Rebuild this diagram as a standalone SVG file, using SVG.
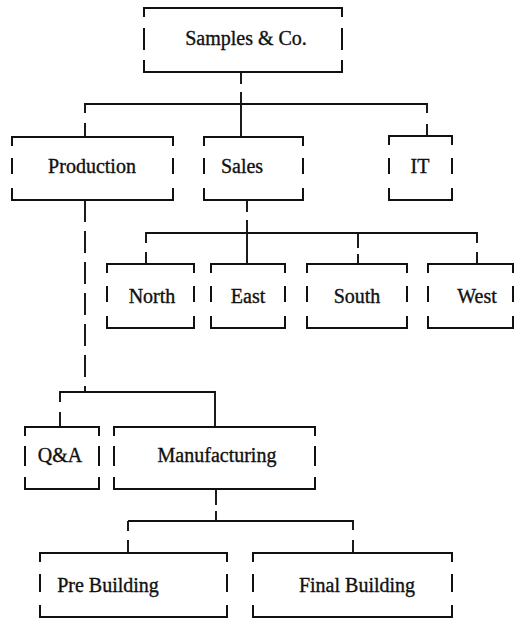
<svg xmlns="http://www.w3.org/2000/svg" width="514" height="619" viewBox="0 0 514 619">
<style>
.b{fill:none;stroke:#111;stroke-width:2}
.c{fill:none;stroke:#111;stroke-width:1.9}
.t{font-family:"Liberation Serif","Times New Roman",serif;font-size:20px;fill:#111;stroke:#111;stroke-width:0.35;text-anchor:middle}
</style>
<rect width="514" height="619" fill="#fff"/>
<g id="connectors">
<path class="c" d="M241 72 V84 M241 92 V137"/>
<path class="c" d="M85 113 V104 H427 V113 M85 123 V137 M427 124 V136"/>
<path class="c" d="M247 200 V212 M247 220 V264"/>
<path class="c" d="M146 243 V233 H477 V243 M146 252 V264 M358 233 V248 M358 254 V264 M477 252 V264"/>
<path class="c" d="M85 200 V392" stroke-dasharray="22 9"/>
<path class="c" d="M60 402 V392 H215 V427 M60 412 V427"/>
<path class="c" d="M216 489 V505 M216 511 V521 M128 521 H353 V530 M128 531 V521 M128 540 V553 M353 540 V553"/>
</g>
<g id="n-root"><path class="b" d="M144 17 V8 H342 V17 M144 60 V72 H342 V60 M144 28 V50 M342 28 V50"/><text class="t" x="246" y="45">Samples &amp; Co.</text></g>
<g id="n-production"><path class="b" d="M12 146 V137 H173 V146 M12 188 V200 H173 V188 M12 158 V174 M173 158 V174"/><text class="t" x="92" y="173">Production</text></g>
<g id="n-sales"><path class="b" d="M204 146 V137 H303 V146 M204 188 V200 H303 V188 M204 158 V174 M303 158 V174"/><text class="t" x="242" y="173">Sales</text></g>
<g id="n-it"><path class="b" d="M389 145 V136 H452 V145 M389 188 V200 H452 V188 M389 158 V174 M452 158 V174"/><text class="t" x="420" y="173">IT</text></g>
<g id="n-north"><path class="b" d="M107 273 V264 H194 V273 M107 316 V328 H194 V316 M107 286 V302 M194 286 V302"/><text class="t" x="152" y="303">North</text></g>
<g id="n-east"><path class="b" d="M211 273 V264 H285 V273 M211 316 V328 H285 V316 M211 286 V302 M285 286 V302"/><text class="t" x="248" y="303">East</text></g>
<g id="n-south"><path class="b" d="M307 273 V264 H407 V273 M307 316 V328 H407 V316 M307 286 V302 M407 286 V302"/><text class="t" x="357" y="303">South</text></g>
<g id="n-west"><path class="b" d="M428 273 V264 H513 V273 M428 316 V328 H513 V316 M428 286 V302 M513 286 V302"/><text class="t" x="477" y="303">West</text></g>
<g id="n-qa"><path class="b" d="M25 436 V427 H99 V436 M25 477 V489 H99 V477 M25 446 V466 M99 446 V466"/><text class="t" x="60" y="462">Q&amp;A</text></g>
<g id="n-manufacturing"><path class="b" d="M114 436 V427 H315 V436 M114 477 V489 H315 V477 M114 446 V466 M315 446 V466"/><text class="t" x="217" y="462">Manufacturing</text></g>
<g id="n-pre"><path class="b" d="M40 562 V553 H227 V562 M40 605 V617 H227 V605 M40 574 V592 M227 574 V592"/><text class="t" x="108" y="592">Pre Building</text></g>
<g id="n-final"><path class="b" d="M253 562 V553 H452 V562 M253 605 V617 H452 V605 M253 574 V592 M452 574 V592"/><text class="t" x="357" y="592">Final Building</text></g>
</svg>
